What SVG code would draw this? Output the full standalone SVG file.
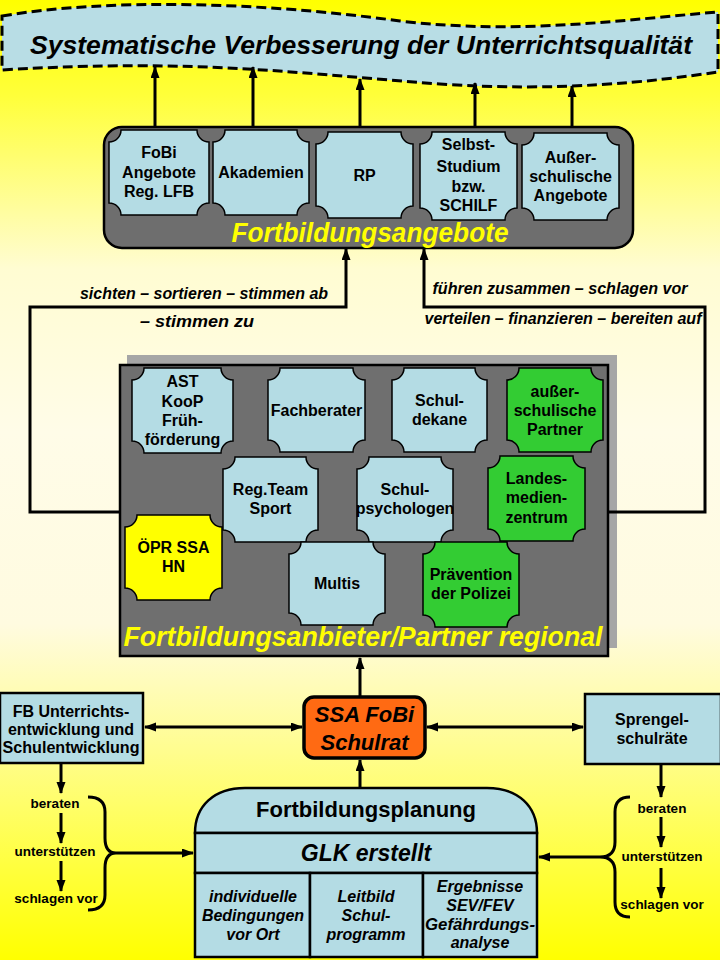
<svg xmlns="http://www.w3.org/2000/svg" width="720" height="960" viewBox="0 0 720 960">
<defs>
<linearGradient id="bg" x1="0" y1="0" x2="0" y2="1">
<stop offset="0" stop-color="#ffff00"/>
<stop offset="0.1" stop-color="#ffff3a"/>
<stop offset="0.28" stop-color="#fffcd2"/>
<stop offset="0.45" stop-color="#fffce8"/>
<stop offset="0.65" stop-color="#fffbe0"/>
<stop offset="0.78" stop-color="#fffd90"/>
<stop offset="0.9" stop-color="#ffff40"/>
<stop offset="1" stop-color="#ffff00"/>
</linearGradient>
<marker id="ah" markerUnits="userSpaceOnUse" markerWidth="12" markerHeight="10" refX="11" refY="4.5" orient="auto-start-reverse">
<path d="M0,0 L12,4.5 L0,9 z" fill="#000"/>
</marker>
</defs>
<style>
.t{font-family:"Liberation Sans",Arial,sans-serif;font-weight:bold;fill:#000;text-anchor:middle}
.it{font-style:italic}
.b15{font-size:16px}
.b13{font-size:13.5px}
.lbl{font-size:16px;font-style:italic}
.title{fill:#ffff00;font-size:27px;font-style:italic}
.plq{stroke:#000;stroke-width:1.5}
.lb{fill:#b4dce4}
.gr{fill:#33cc33}
.ye{fill:#ffff00}
.con{fill:none;stroke:#000;stroke-width:3}
.arr{fill:none;stroke:#000;stroke-width:3;marker-end:url(#ah)}
.dbl{marker-start:url(#ah)}
.box{fill:#b4dce4;stroke:#000;stroke-width:2.5}
</style>
<rect x="0" y="0" width="720" height="960" fill="url(#bg)"/>

<g id="banner">
<path d="M2,16 C110,-2 260,2 400,21 C520,35 620,20 718,12 V72 C650,82 560,92 440,84 C300,74 200,58 2,70 Z" fill="#b8dde5" stroke="#000" stroke-width="3" stroke-dasharray="10,5"/>
<text class="t it" x="361" y="54" font-size="26" textLength="662" lengthAdjust="spacingAndGlyphs">Systematische Verbesserung der Unterrichtsqualität</text>
</g>

<g id="fortbildungsangebote">
<rect x="104" y="127" width="529" height="121" rx="18" fill="#6e6e6e" stroke="#000" stroke-width="2.5"/>
<text class="t title" x="370" y="242" textLength="277" lengthAdjust="spacingAndGlyphs">Fortbildungsangebote</text>
</g>
<g id="fobi-lfb">
<path class="plq lb" d="M121,130 H197 A12,12 0 0 0 209,142 V203 A12,12 0 0 0 197,215 H121 A12,12 0 0 0 109,203 V142 A12,12 0 0 0 121,130 Z"/>
<text class="t b15" x="159" y="158">FoBi</text>
<text class="t b15" x="159" y="178">Angebote</text>
<text class="t b15" x="159" y="197">Reg. LFB</text>
</g>
<g id="akademien">
<path class="plq lb" d="M225,130 H297 A12,12 0 0 0 309,142 V203 A12,12 0 0 0 297,215 H225 A12,12 0 0 0 213,203 V142 A12,12 0 0 0 225,130 Z"/>
<text class="t b15" x="261" y="178">Akademien</text>
</g>
<g id="rp">
<path class="plq lb" d="M328,132 H401 A12,12 0 0 0 413,144 V206 A12,12 0 0 0 401,218 H328 A12,12 0 0 0 316,206 V144 A12,12 0 0 0 328,132 Z"/>
<text class="t b15" x="364.5" y="181">RP</text>
</g>
<g id="selbststudium">
<path class="plq lb" d="M432,132 H505 A12,12 0 0 0 517,144 V208 A12,12 0 0 0 505,220 H432 A12,12 0 0 0 420,208 V144 A12,12 0 0 0 432,132 Z"/>
<text class="t b15" x="468.5" y="150">Selbst-</text>
<text class="t b15" x="468.5" y="172">Studium</text>
<text class="t b15" x="468.5" y="192">bzw.</text>
<text class="t b15" x="468.5" y="211">SCHILF</text>
</g>
<g id="ausserschulische-angebote">
<path class="plq lb" d="M534,133 H607 A12,12 0 0 0 619,145 V208 A12,12 0 0 0 607,220 H534 A12,12 0 0 0 522,208 V145 A12,12 0 0 0 534,133 Z"/>
<text class="t b15" x="570.5" y="163">Außer-</text>
<text class="t b15" x="570.5" y="182">schulische</text>
<text class="t b15" x="570.5" y="201">Angebote</text>
</g>

<g id="anbieter">
<rect x="127" y="355" width="490" height="293" fill="#a6a6a6"/>
<rect x="120" y="365" width="488" height="291" fill="#6f6f6f" stroke="#000" stroke-width="2.5"/>
<text class="t title" x="363" y="646" textLength="479" lengthAdjust="spacingAndGlyphs">Fortbildungsanbieter/Partner regional</text>
</g>
<g id="ast">
<path class="plq lb" d="M144,368 H221 A12,12 0 0 0 233,380 V441 A12,12 0 0 0 221,453 H144 A12,12 0 0 0 132,441 V380 A12,12 0 0 0 144,368 Z"/>
<text class="t b15" x="182.5" y="387">AST</text>
<text class="t b15" x="182.5" y="407">KooP</text>
<text class="t b15" x="182.5" y="426">Früh-</text>
<text class="t b15" x="182.5" y="445">förderung</text>
</g>
<g id="fachberater">
<path class="plq lb" d="M280,368 H353 A12,12 0 0 0 365,380 V440 A12,12 0 0 0 353,452 H280 A12,12 0 0 0 268,440 V380 A12,12 0 0 0 280,368 Z"/>
<text class="t b15" x="316.5" y="416">Fachberater</text>
</g>
<g id="schuldekane">
<path class="plq lb" d="M404,368 H475 A12,12 0 0 0 487,380 V440 A12,12 0 0 0 475,452 H404 A12,12 0 0 0 392,440 V380 A12,12 0 0 0 404,368 Z"/>
<text class="t b15" x="439.5" y="406">Schul-</text>
<text class="t b15" x="439.5" y="425">dekane</text>
</g>
<g id="ausserschulische-partner">
<path class="plq gr" d="M519,368 H591 A12,12 0 0 0 603,380 V440 A12,12 0 0 0 591,452 H519 A12,12 0 0 0 507,440 V380 A12,12 0 0 0 519,368 Z"/>
<text class="t b15" x="555" y="397">außer-</text>
<text class="t b15" x="555" y="416">schulische</text>
<text class="t b15" x="555" y="435">Partner</text>
</g>
<g id="regteam">
<path class="plq lb" d="M235,457 H306 A12,12 0 0 0 318,469 V530 A12,12 0 0 0 306,542 H235 A12,12 0 0 0 223,530 V469 A12,12 0 0 0 235,457 Z"/>
<text class="t b15" x="270.5" y="495">Reg.Team</text>
<text class="t b15" x="270.5" y="514">Sport</text>
</g>
<g id="schulpsychologen">
<path class="plq lb" d="M369,457 H441 A12,12 0 0 0 453,469 V530 A12,12 0 0 0 441,542 H369 A12,12 0 0 0 357,530 V469 A12,12 0 0 0 369,457 Z"/>
<text class="t b15" x="405" y="495">Schul-</text>
<text class="t b15" x="405" y="514">psychologen</text>
</g>
<g id="landesmedienzentrum">
<path class="plq gr" d="M500,456 H573 A12,12 0 0 0 585,468 V529 A12,12 0 0 0 573,541 H500 A12,12 0 0 0 488,529 V468 A12,12 0 0 0 500,456 Z"/>
<text class="t b15" x="536.5" y="484">Landes-</text>
<text class="t b15" x="536.5" y="503">medien-</text>
<text class="t b15" x="536.5" y="523">zentrum</text>
</g>
<g id="oepr">
<path class="plq ye" d="M137,515 H210 A12,12 0 0 0 222,527 V588 A12,12 0 0 0 210,600 H137 A12,12 0 0 0 125,588 V527 A12,12 0 0 0 137,515 Z"/>
<text class="t b15" x="173.5" y="553">ÖPR SSA</text>
<text class="t b15" x="173.5" y="572">HN</text>
</g>
<g id="multis">
<path class="plq lb" d="M301,542 H373 A12,12 0 0 0 385,554 V613 A12,12 0 0 0 373,625 H301 A12,12 0 0 0 289,613 V554 A12,12 0 0 0 301,542 Z"/>
<text class="t b15" x="337" y="589">Multis</text>
</g>
<g id="praevention">
<path class="plq gr" d="M435,542 H507 A12,12 0 0 0 519,554 V615 A12,12 0 0 0 507,627 H435 A12,12 0 0 0 423,615 V554 A12,12 0 0 0 435,542 Z"/>
<text class="t b15" x="471" y="580">Prävention</text>
<text class="t b15" x="471" y="599">der Polizei</text>
</g>

<g id="fb-unterrichtsentwicklung">
<rect class="box" x="0" y="693" width="143" height="70"/>
<text class="t b15" x="71" y="717">FB Unterrichts-</text>
<text class="t b15" x="71" y="735">entwicklung und</text>
<text class="t b15" x="71" y="753" textLength="137" lengthAdjust="spacingAndGlyphs">Schulentwicklung</text>
</g>
<g id="ssa-fobi">
<rect x="304" y="697" width="121" height="61" rx="10" fill="#ff6a13" stroke="#000" stroke-width="3.5"/>
<text class="t it" x="364.5" y="722" font-size="22">SSA FoBi</text>
<text class="t it" x="364.5" y="750" font-size="22">Schulrat</text>
</g>
<g id="sprengelschulraete">
<rect class="box" x="585" y="694" width="136" height="70"/>
<text class="t b15" x="652" y="725">Sprengel-</text>
<text class="t b15" x="652" y="744">schulräte</text>
</g>
<g id="fortbildungsplanung">
<path class="box" d="M195,833 C195,806 214,788 245,788 H487 C518,788 537,806 537,833 Z"/>
<text class="t" x="366" y="817" font-size="22">Fortbildungsplanung</text>
<rect class="box" x="195" y="833" width="342" height="40"/>
<text class="t it" x="366" y="861" font-size="23">GLK erstellt</text>
<rect class="box" x="195" y="873" width="115" height="84"/>
<rect class="box" x="310" y="873" width="113" height="84"/>
<rect class="box" x="423" y="873" width="114" height="84"/>
<text class="t it b15" x="253" y="902">individuelle</text>
<text class="t it b15" x="253" y="921">Bedingungen</text>
<text class="t it b15" x="253" y="940">vor Ort</text>
<text class="t it b15" x="366" y="902">Leitbild</text>
<text class="t it b15" x="366" y="921">Schul-</text>
<text class="t it b15" x="366" y="940">programm</text>
<text class="t it b15" x="480" y="892">Ergebnisse</text>
<text class="t it b15" x="480" y="911">SEV/FEV</text>
<text class="t it b15" x="480" y="930" textLength="110" lengthAdjust="spacingAndGlyphs">Gefährdungs-</text>
<text class="t it b15" x="480" y="948">analyse</text>
</g>

<g id="connectors">
<line class="arr" x1="155" y1="127" x2="155" y2="67"/>
<line class="arr" x1="253" y1="127" x2="253" y2="67"/>
<line class="arr" x1="360" y1="127" x2="360" y2="79"/>
<line class="arr" x1="475" y1="127" x2="475" y2="83"/>
<line class="arr" x1="572" y1="127" x2="572" y2="86"/>
<polyline class="arr" points="120,512 30,512 30,307 346,307 346,249"/>
<polyline class="arr" points="608,512 705,512 705,307 424,307 424,249"/>
<line class="arr" x1="360" y1="697" x2="360" y2="658"/>
<line class="arr" x1="360" y1="788" x2="360" y2="760"/>
<line class="arr dbl" x1="145" y1="727" x2="302" y2="727"/>
<line class="arr dbl" x1="427" y1="727" x2="583" y2="727"/>
<line class="arr" x1="61" y1="763" x2="61" y2="793"/>
<line class="arr" x1="61" y1="813" x2="61" y2="843"/>
<line class="arr" x1="61" y1="861" x2="61" y2="891"/>
<line class="arr" x1="661" y1="764" x2="661" y2="797"/>
<line class="arr" x1="661" y1="817" x2="661" y2="847"/>
<line class="arr" x1="661" y1="868" x2="661" y2="898"/>
<path class="con" d="M88,797 Q105,797 105,812 V838 Q105,853 116,853 Q105,853 105,868 V895 Q105,910 88,910" stroke-width="2.5"/>
<line class="arr" x1="116" y1="853" x2="193" y2="853" stroke-width="2.5"/>
<path class="con" d="M630,797 Q615,797 615,812 V842 Q615,857 600,857 Q615,857 615,872 V902 Q615,917 630,917" stroke-width="2.5"/>
<line class="arr" x1="600" y1="857" x2="539" y2="857" stroke-width="2.5"/>
</g>

<g id="labels">
<text class="t lbl" x="204" y="299" textLength="248" lengthAdjust="spacingAndGlyphs">sichten – sortieren – stimmen ab</text>
<text class="t lbl" x="197" y="327" textLength="114" lengthAdjust="spacingAndGlyphs">– stimmen zu</text>
<text class="t lbl" x="560" y="294" textLength="255" lengthAdjust="spacingAndGlyphs">führen zusammen – schlagen vor</text>
<text class="t lbl" x="563" y="324" textLength="277" lengthAdjust="spacingAndGlyphs">verteilen – finanzieren – bereiten auf</text>
<text class="t b13" x="55" y="808">beraten</text>
<text class="t b13" x="55" y="856">unterstützen</text>
<text class="t b13" x="56" y="903">schlagen vor</text>
<text class="t b13" x="662" y="813">beraten</text>
<text class="t b13" x="662" y="861">unterstützen</text>
<text class="t b13" x="662" y="909">schlagen vor</text>
</g>
</svg>
